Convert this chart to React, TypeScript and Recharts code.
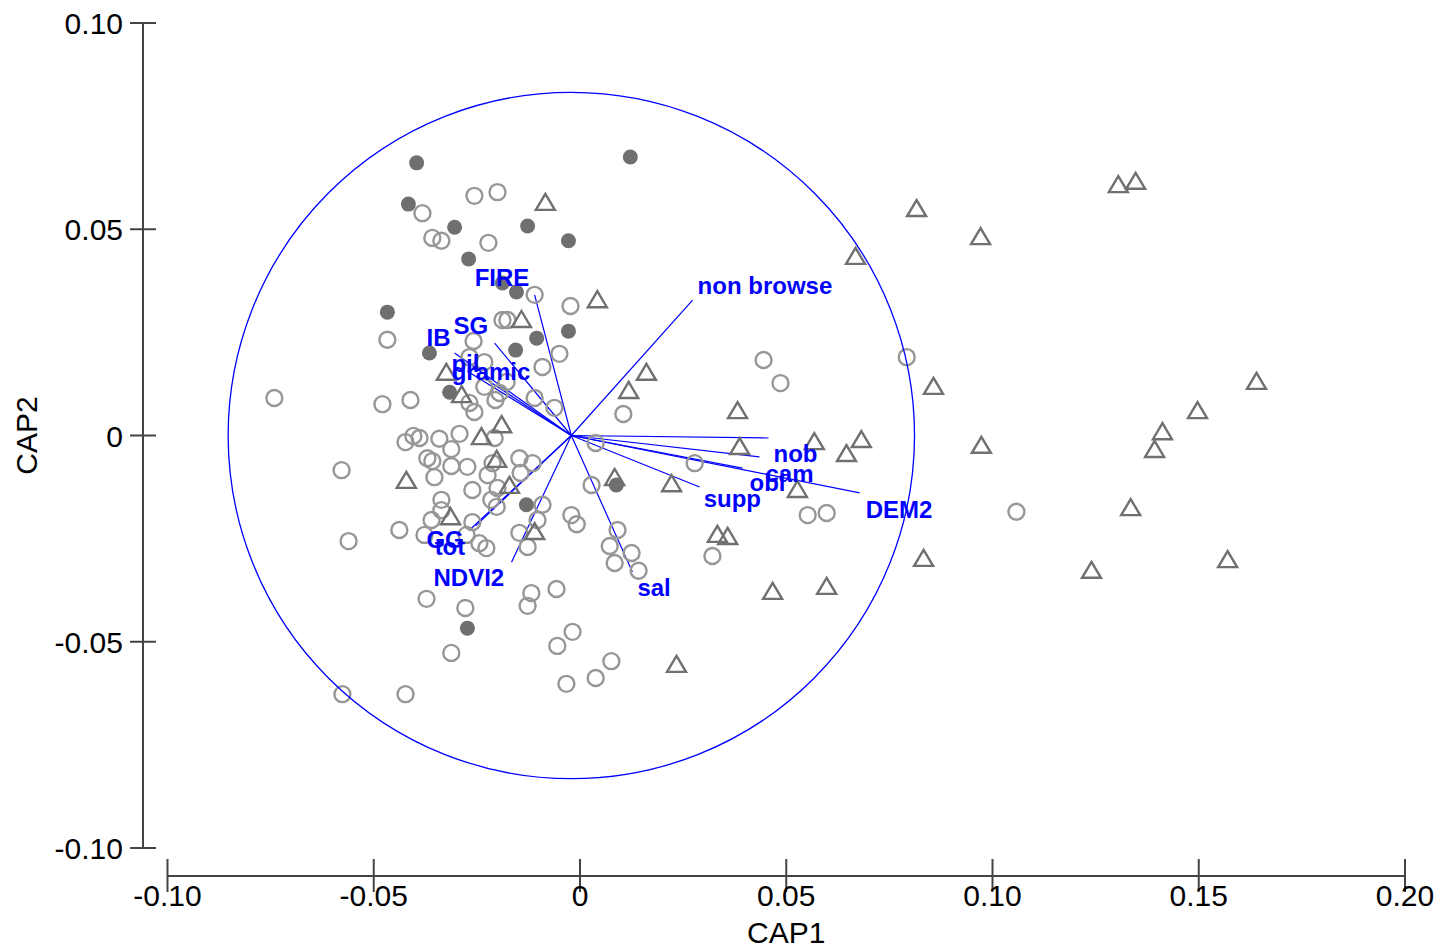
import React from 'react';
import { ScatterChart, Scatter, XAxis, YAxis, ReferenceLine, ReferenceDot, Label } from 'recharts';

// site scores on CAP1 / CAP2
const openSites = [
  { x: -0.0741, y: 0.0091 }, { x: -0.0578, y: -0.0084 }, { x: -0.0561, y: -0.0256 }, { x: -0.0576, y: -0.0627 },
  { x: -0.0423, y: -0.0627 }, { x: -0.0479, y: 0.0076 }, { x: -0.0411, y: 0.0086 }, { x: -0.0467, y: 0.0232 },
  { x: -0.0382, y: 0.0539 }, { x: -0.0358, y: 0.0479 }, { x: -0.0336, y: 0.0472 }, { x: -0.0256, y: 0.0581 },
  { x: -0.0200, y: 0.0590 }, { x: -0.0222, y: 0.0467 }, { x: -0.0110, y: 0.0341 }, { x: -0.0023, y: 0.0314 },
  { x: -0.0188, y: 0.0280 }, { x: -0.0176, y: 0.0280 }, { x: -0.0258, y: 0.0229 }, { x: -0.0268, y: 0.0190 },
  { x: -0.0232, y: 0.0178 }, { x: -0.0050, y: 0.0198 }, { x: -0.0091, y: 0.0166 }, { x: -0.0178, y: 0.0130 },
  { x: -0.0232, y: 0.0118 }, { x: -0.0195, y: 0.0103 }, { x: -0.0205, y: 0.0086 }, { x: -0.0110, y: 0.0091 },
  { x: -0.0062, y: 0.0067 }, { x: -0.0268, y: 0.0079 }, { x: -0.0256, y: 0.0057 }, { x: -0.0423, y: -0.0016 },
  { x: -0.0404, y: -0.0001 }, { x: -0.0389, y: -0.0006 }, { x: -0.0341, y: -0.0008 }, { x: -0.0292, y: 0.0004 },
  { x: -0.0312, y: -0.0033 }, { x: -0.0370, y: -0.0055 }, { x: -0.0358, y: -0.0062 }, { x: -0.0312, y: -0.0074 },
  { x: -0.0273, y: -0.0076 }, { x: -0.0353, y: -0.0101 }, { x: -0.0212, y: -0.0067 }, { x: -0.0224, y: -0.0096 },
  { x: -0.0147, y: -0.0055 }, { x: -0.0115, y: -0.0067 }, { x: -0.0144, y: -0.0091 }, { x: -0.0261, y: -0.0132 },
  { x: -0.0200, y: -0.0127 }, { x: -0.0215, y: -0.0156 }, { x: -0.0336, y: -0.0156 }, { x: -0.0202, y: -0.0173 },
  { x: -0.0091, y: -0.0168 }, { x: -0.0360, y: -0.0205 }, { x: -0.0336, y: -0.0181 }, { x: -0.0261, y: -0.0210 },
  { x: -0.0103, y: -0.0205 }, { x: -0.0438, y: -0.0229 }, { x: -0.0377, y: -0.0241 }, { x: -0.0275, y: -0.0241 },
  { x: -0.0244, y: -0.0261 }, { x: -0.0227, y: -0.0273 }, { x: -0.0147, y: -0.0236 }, { x: -0.0127, y: -0.0270 },
  { x: -0.0021, y: -0.0193 }, { x: -0.0008, y: -0.0215 }, { x: 0.0028, y: -0.0120 }, { x: 0.0038, y: -0.0018 },
  { x: 0.0091, y: -0.0229 }, { x: 0.0072, y: -0.0268 }, { x: 0.0125, y: -0.0285 }, { x: 0.0084, y: -0.0309 },
  { x: 0.0142, y: -0.0328 }, { x: 0.0278, y: -0.0067 }, { x: 0.0321, y: -0.0292 }, { x: 0.0552, y: -0.0193 },
  { x: 0.0598, y: -0.0188 }, { x: -0.0118, y: -0.0382 }, { x: -0.0127, y: -0.0413 }, { x: -0.0057, y: -0.0372 },
  { x: -0.0018, y: -0.0476 }, { x: -0.0055, y: -0.0510 }, { x: 0.0076, y: -0.0547 }, { x: 0.0038, y: -0.0588 },
  { x: -0.0033, y: -0.0602 }, { x: -0.0372, y: -0.0396 }, { x: -0.0278, y: -0.0418 }, { x: -0.0312, y: -0.0527 },
  { x: 0.0105, y: 0.0052 }, { x: 0.0445, y: 0.0183 }, { x: 0.0486, y: 0.0127 }, { x: 0.0792, y: 0.0190 },
  { x: 0.1058, y: -0.0185 }, { x: -0.0207, y: -0.0006 },
];

const filledSites = [
  { x: -0.0396, y: 0.0661 }, { x: 0.0122, y: 0.0675 }, { x: -0.0416, y: 0.0561 }, { x: -0.0304, y: 0.0505 },
  { x: -0.0127, y: 0.0508 }, { x: -0.0028, y: 0.0472 }, { x: -0.0270, y: 0.0428 }, { x: -0.0188, y: 0.0370 },
  { x: -0.0154, y: 0.0348 }, { x: -0.0467, y: 0.0299 }, { x: -0.0028, y: 0.0253 }, { x: -0.0156, y: 0.0207 },
  { x: -0.0365, y: 0.0200 }, { x: -0.0105, y: 0.0236 }, { x: -0.0316, y: 0.0105 }, { x: -0.0130, y: -0.0168 },
  { x: 0.0088, y: -0.0120 }, { x: -0.0273, y: -0.0467 },
];

const triangleSites = [
  { x: -0.0084, y: 0.0564 }, { x: 0.0042, y: 0.0328 }, { x: -0.0142, y: 0.0280 }, { x: 0.0161, y: 0.0152 },
  { x: 0.0118, y: 0.0108 }, { x: -0.0324, y: 0.0152 }, { x: -0.0287, y: 0.0098 }, { x: -0.0190, y: 0.0025 },
  { x: -0.0239, y: -0.0004 }, { x: -0.0202, y: -0.0059 }, { x: -0.0421, y: -0.0110 }, { x: -0.0171, y: -0.0122 },
  { x: -0.0314, y: -0.0198 }, { x: -0.0110, y: -0.0234 }, { x: 0.0084, y: -0.0103 }, { x: 0.0222, y: -0.0118 },
  { x: 0.0382, y: 0.0059 }, { x: 0.0387, y: -0.0028 }, { x: 0.0568, y: -0.0016 }, { x: 0.0646, y: -0.0045 },
  { x: 0.0682, y: -0.0011 }, { x: 0.0527, y: -0.0132 }, { x: 0.0333, y: -0.0241 }, { x: 0.0358, y: -0.0246 },
  { x: 0.0467, y: -0.0379 }, { x: 0.0598, y: -0.0367 }, { x: 0.0234, y: -0.0556 }, { x: 0.0668, y: 0.0433 },
  { x: 0.0816, y: 0.0549 }, { x: 0.0971, y: 0.0481 }, { x: 0.0857, y: 0.0118 }, { x: 0.0973, y: -0.0025 },
  { x: 0.0833, y: -0.0299 }, { x: 0.1305, y: 0.0607 }, { x: 0.1347, y: 0.0615 }, { x: 0.1640, y: 0.0130 },
  { x: 0.1497, y: 0.0059 }, { x: 0.1412, y: 0.0008 }, { x: 0.1393, y: -0.0035 }, { x: 0.1335, y: -0.0176 },
  { x: 0.1240, y: -0.0328 }, { x: 0.1570, y: -0.0302 },
];

// predictor vectors
const vectorOrigin = { x: -0.0021, y: 0 };
const vectors = [
  { name: 'FIRE', x: -0.0110, y: 0.0341 },
  { name: 'non browse', x: 0.0273, y: 0.0328 },
  { name: 'SG', x: -0.0207, y: 0.0224 },
  { name: 'IB', x: -0.0304, y: 0.0200 },
  { name: 'pil', x: -0.0273, y: 0.0156 },
  { name: 'gramic', x: -0.0236, y: 0.0142 },
  { name: 'nob', x: 0.0457, y: -0.0006 },
  { name: 'cam', x: 0.0435, y: -0.0052 },
  { name: 'obl', x: 0.0394, y: -0.0079 },
  { name: 'supp', x: 0.0290, y: -0.0125 },
  { name: 'DEM2', x: 0.0678, y: -0.0139 },
  { name: 'sal', x: 0.0127, y: -0.0331 },
  { name: 'NDVI2', x: -0.0166, y: -0.0307 },
  { name: 'GG', x: -0.0268, y: -0.0229 },
  { name: 'tot', x: -0.0253, y: -0.0219 },
];
const circleRadius = 0.0832;

const X_TICKS = [-0.1, -0.05, 0, 0.05, 0.1, 0.15, 0.2];
const Y_TICKS = [-0.1, -0.05, 0, 0.05, 0.1];

// layout
const PX_PER_UNIT = 4125;
const X_MIN = -0.1 - 24.5 / PX_PER_UNIT;
const Y_MIN = -0.1 - 28 / PX_PER_UNIT;
const FONT = "Arial, 'Liberation Sans', sans-serif";
const AXIS = '#444';
const BLUE = '#0000ff';

// label placement relative to the vector tip, in px
const labelOffsets: Record<string, [number, number]> = {
  FIRE: [-60, -9],
  'non browse': [5, -6],
  SG: [-41, -9],
  IB: [-28, -7],
  pil: [-16, 1],
  gramic: [-31, 3],
  nob: [5, 24],
  cam: [6, 25],
  obl: [7, 23],
  supp: [4, 20],
  DEM2: [6, 25],
  sal: [5, 24],
  NDVI2: [-78, 24],
  GG: [-43, 18],
  tot: [-41, 29],
};

const fmt = (v: number) => (v === 0 ? '0' : v.toFixed(2));

const XTick = (p: any) => (
  <g>
    <line x1={p.x} x2={p.x} y1={p.y - 17} y2={p.y + 16} stroke={AXIS} strokeWidth={2} />
    <text x={p.x} y={p.y + 30} textAnchor="middle" fontSize={30} fontFamily={FONT} fill="#000">
      {fmt(p.payload.value)}
    </text>
  </g>
);

const YTick = (p: any) => (
  <g>
    <line x1={p.x - 13} x2={p.x + 13} y1={p.y} y2={p.y} stroke={AXIS} strokeWidth={2} />
    <text x={p.x - 20} y={p.y + 11} textAnchor="end" fontSize={30} fontFamily={FONT} fill="#000">
      {fmt(p.payload.value)}
    </text>
  </g>
);

const OpenCircle = (p: any) => (
  <circle cx={p.cx} cy={p.cy} r={8} fill="none" stroke="#979797" strokeWidth={2.4} />
);
const FilledCircle = (p: any) => <circle cx={p.cx} cy={p.cy} r={7.5} fill="#6f6f6f" />;
const Triangle = (p: any) => (
  <polygon
    points={`${p.cx},${p.cy - 9} ${p.cx - 9.5},${p.cy + 7} ${p.cx + 9.5},${p.cy + 7}`}
    fill="none"
    stroke="#707070"
    strokeWidth={2.4}
    strokeLinejoin="miter"
  />
);

const VectorLabel = (p: any) => {
  const name = p.payload?.name ?? p.name;
  const [dx, dy] = labelOffsets[name] || [0, 0];
  return (
    <text x={p.cx + dx} y={p.cy + dy} fontSize={24} fontWeight="bold" fontFamily={FONT} fill={BLUE}>
      {name}
    </text>
  );
};

const XTitle = (p: any) => {
  const vb = p.viewBox;
  const cx = vb.x + ((0.05 - X_MIN) / (0.2 - X_MIN)) * vb.width;
  return (
    <text x={cx} y={943} textAnchor="middle" fontSize={30} fontFamily={FONT} fill="#000">
      CAP1
    </text>
  );
};

const YTitle = (p: any) => {
  const vb = p.viewBox;
  const cy = vb.y + (0.1 / (0.1 - Y_MIN)) * vb.height;
  return (
    <text x={37} y={cy} transform={`rotate(-90, 37, ${cy})`} textAnchor="middle" fontSize={30} fontFamily={FONT} fill="#000">
      CAP2
    </text>
  );
};

export default function App() {
  return (
    <div style={{ position: 'absolute', left: 0, top: 0, width: 1452, height: 948, background: '#fff' }}>
      <ScatterChart width={1452} height={948} margin={{ top: 23, right: 47, bottom: 42, left: 83 }}>
        <XAxis
          type="number"
          dataKey="x"
          domain={[X_MIN, 0.2]}
          ticks={X_TICKS}
          interval={0}
          allowDataOverflow
          axisLine={false}
          tickLine={false}
          tickSize={0}
          tickMargin={0}
          height={30}
          tick={XTick}
        >
          <Label content={XTitle} />
        </XAxis>
        <YAxis
          type="number"
          dataKey="y"
          domain={[Y_MIN, 0.1]}
          ticks={Y_TICKS}
          interval={0}
          allowDataOverflow
          axisLine={false}
          tickLine={false}
          tickSize={0}
          tickMargin={0}
          width={60}
          tick={YTick}
        >
          <Label content={YTitle} />
        </YAxis>

        <ReferenceLine
          segment={[{ x: -0.1, y: Y_MIN }, { x: 0.2, y: Y_MIN }]}
          stroke={AXIS}
          strokeWidth={2}
          ifOverflow="visible"
        />
        <ReferenceLine
          segment={[{ x: X_MIN, y: -0.1 }, { x: X_MIN, y: 0.1 }]}
          stroke={AXIS}
          strokeWidth={2}
          ifOverflow="visible"
        />

        <Scatter data={openSites} shape={OpenCircle} isAnimationActive={false} />
        <Scatter data={filledSites} shape={FilledCircle} isAnimationActive={false} />
        <Scatter data={triangleSites} shape={Triangle} isAnimationActive={false} />

        <ReferenceDot
          x={vectorOrigin.x}
          y={vectorOrigin.y}
          r={circleRadius * PX_PER_UNIT}
          fill="none"
          stroke={BLUE}
          strokeWidth={1.3}
          ifOverflow="visible"
        />
        {vectors.map((v) => (
          <ReferenceLine
            key={v.name}
            segment={[vectorOrigin, { x: v.x, y: v.y }]}
            stroke={BLUE}
            strokeWidth={1.2}
            ifOverflow="visible"
          />
        ))}
        <Scatter data={vectors} shape={VectorLabel} isAnimationActive={false} />
      </ScatterChart>
    </div>
  );
}
